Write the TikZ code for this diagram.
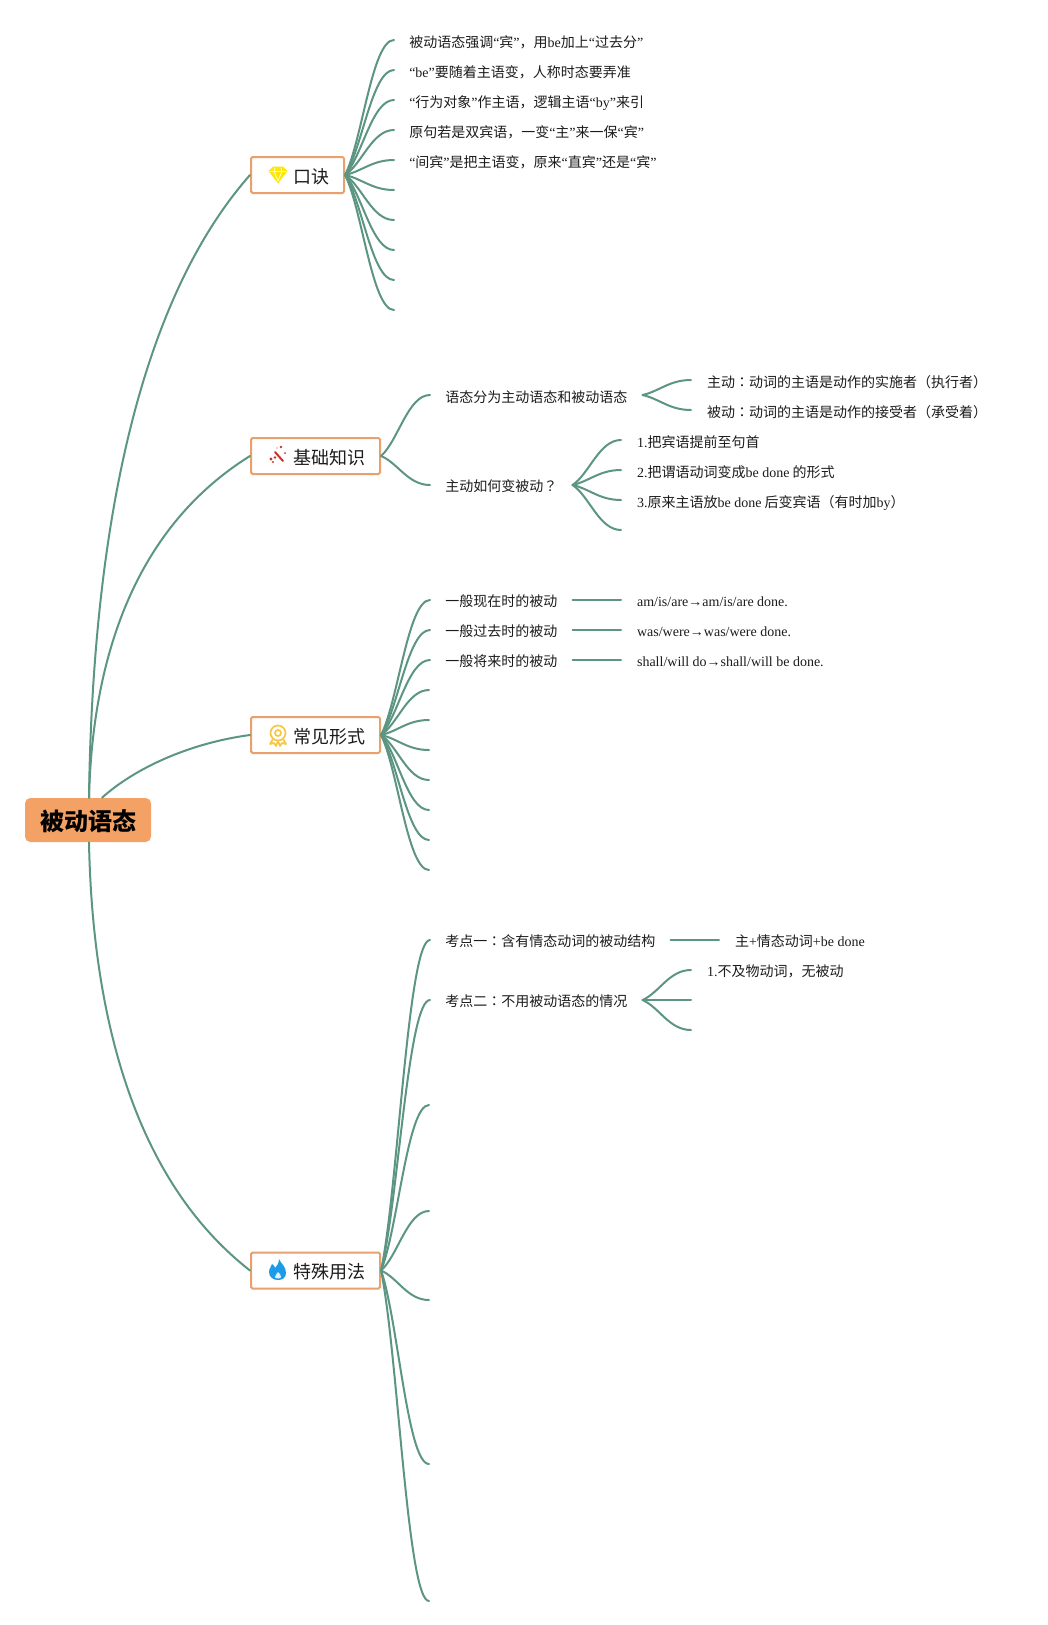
\documentclass[tikz,border=0pt]{standalone}
\usepackage{fontspec}
\usetikzlibrary{calc}
\setmainfont{Noto Sans CJK SC}
\newfontfamily\latf{Liberation Serif}
\newfontfamily\tcf{Noto Sans CJK TC}
\newcommand\la[1]{{\latf #1}}
\newcommand\cln{{\tcf ：}}
\newcommand\lsh{\hspace{.6pt}}
\definecolor{linkc}{RGB}{92,150,130}
\definecolor{boxc}{RGB}{232,160,108}
\definecolor{rootc}{RGB}{243,161,100}
\definecolor{inkc}{RGB}{28,28,28}
\definecolor{medalc}{RGB}{246,200,70}
\definecolor{flamec}{RGB}{30,155,232}
\definecolor{wandc}{RGB}{205,50,40}
\tikzset{
  x=0.75pt,y=-0.75pt,
  link/.style={draw=linkc,line width=1.5pt,line cap=round},
  leaf/.style={anchor=west,inner xsep=11.25pt,inner ysep=0pt,text=inkc,
    font=\fontsize{10.5pt}{12pt}\selectfont,text height=10.5pt,text depth=0.5pt},
  lowleaf/.style={leaf,text height=12pt},
  topic/.style={anchor=west,draw=boxc,line width=1.5pt,rounded corners=1.2pt,fill=white,
    minimum height=27pt,inner xsep=11.25pt,inner ysep=0pt,text=inkc,
    font=\fontsize{13.5pt}{15pt}\selectfont,text height=13pt,text depth=.6pt},
  rootn/.style={anchor=center,fill=rootc,rounded corners=4pt,minimum width=94.5pt,minimum height=33pt,
    inner sep=0pt,text=black,font=\fontsize{18pt}{20pt}\selectfont\bfseries,text height=15.7pt,text depth=.5pt},
}
\newcommand\qb[2]{\draw[link] let \p1=(#1),\p2=(#2) in (#1) .. controls
  ({\x1+.35*(\x2-\x1)},{\y1+.25*(\y2-\y1)}) and ({\x1+.55*(\x2-\x1)},\y2) .. (#2);}
\newcommand\rb[2]{\draw[link] let \p1=(#1),\p2=(#2) in (#1) .. controls
  ({\x1+.02*(\x2-\x1)},{\y1+.38*(\y2-\y1)}) and ({\x1+.25*(\x2-\x1)},{\y1+.78*(\y2-\y1)}) .. (#2);}
\begin{document}
\begin{tikzpicture}
\useasboundingbox (0,0) rectangle (1047,1625);
\fill[white] (0,0) rectangle (1047,1625);

% root and topics
\node[rootn] (root) at (88,820) {\hspace{1.5pt}被动语态};
\node[topic] (t1) at (250,175) {\hspace{20.3pt}口诀};
\node[topic] (t2) at (250,456) {\hspace{20.3pt}基础知识};
\node[topic] (t3) at (250,735) {\hspace{20.3pt}常见形式};
\node[topic] (t4) at (250,1270.5) {\hspace{20.3pt}特殊用法};
\coordinate (rn) at ($(root.north)+(1,0)$);
\coordinate (rn2) at ($(root.north)+(14,0)$);
\coordinate (rs) at ($(root.south)+(1,0)$);
\rb{rn}{t1.west}
\rb{rn}{t2.west}
\rb{rs}{t4.west}
\draw[link] (rn2) .. controls (135,768) and (190,743) .. (t3.west);

% topic 1
\node[lowleaf] (a1) at (394,40) {被动语态强调\la{“}宾\la{”}，用\la{be}加上\la{“}过去分\la{”}};
\node[lowleaf] (a2) at (394,70) {\la{“be”}要随着主语变，人称时态要弄准};
\node[lowleaf] (a3) at (394,100) {\la{“}行为对象\la{”}作主语，逻辑主语\la{“by”}来引};
\node[lowleaf] (a4) at (394,130) {原句若是双宾语，一变\la{“}主\la{”}来一保\la{“}宾\la{”}};
\node[lowleaf] (a5) at (394,160) {\la{“}间宾\la{”}是把主语变，原来\la{“}直宾\la{”}还是\la{“}宾\la{”}};
\coordinate (a6) at (394,190);
\coordinate (a7) at (394,220);
\coordinate (a8) at (394,250);
\coordinate (a9) at (394,280);
\coordinate (a10) at (394,310);
\foreach \tgt in {a1.west,a2.west,a3.west,a4.west,a5.west,a6,a7,a8,a9,a10}{\qb{t1.east}{\tgt}}

% topic 2
\node[lowleaf] (b1) at (430,395) {语态分为主动语态和被动语态};
\node[leaf] (b2) at (430,485) {主动如何变被动{\tcf ？}};
\qb{t2.east}{b1.west}
\qb{t2.east}{b2.west}
\node[lowleaf] (b11) at (691,380) {\lsh 主动\cln 动词的主语是动作的实施者（执行者）};
\node[lowleaf] (b12) at (691,410) {\lsh 被动\cln 动词的主语是动作的接受者（承受着）};
\qb{b1.east}{b11.west}
\qb{b1.east}{b12.west}
\node[lowleaf] (b21) at (621,440) {\lsh\la{1.}把宾语提前至句首};
\node[lowleaf] (b22) at (621,470) {\lsh\la{2.}把谓语动词变成\la{be done} 的形式};
\node[lowleaf] (b23) at (621,500) {\lsh\la{3.}原来主语放\la{be done} 后变宾语（有时加\la{by}）};
\coordinate (b24) at (621,530);
\foreach \tgt in {b21.west,b22.west,b23.west,b24}{\qb{b2.east}{\tgt}}

% topic 3
\node[leaf] (c1) at (430,600) {一般现在时的被动};
\node[leaf] (c2) at (430,630) {一般过去时的被动};
\node[leaf] (c3) at (430,660) {一般将来时的被动};
\coordinate (c4) at (429,690);
\coordinate (c5) at (429,720);
\coordinate (c6) at (429,750);
\coordinate (c7) at (429,780);
\coordinate (c8) at (429,810);
\coordinate (c9) at (429,840);
\coordinate (c10) at (429,870);
\foreach \tgt in {c1.west,c2.west,c3.west,c4,c5,c6,c7,c8,c9,c10}{\qb{t3.east}{\tgt}}
\node[leaf] (c11) at (621,600) {\lsh\la{am/is/are→am/is/are done.}};
\node[leaf] (c21) at (621,630) {\lsh\la{was/were→was/were done.}};
\node[leaf] (c31) at (621,660) {\lsh\la{shall/will do→shall/will be done.}};
\draw[link] (c1.east) -- (c11.west);
\draw[link] (c2.east) -- (c21.west);
\draw[link] (c3.east) -- (c31.west);

% topic 4
\node[leaf] (d1) at (430,940) {考点一\cln 含有情态动词的被动结构};
\node[leaf] (d2) at (430,1000) {考点二\cln 不用被动语态的情况};
\coordinate (d3) at (429,1105);
\coordinate (d4) at (429,1211);
\coordinate (d5) at (429,1300);
\coordinate (d6) at (429,1464);
\coordinate (d7) at (429,1601);
\foreach \tgt in {d1.west,d2.west,d3,d4,d5,d6,d7}{\qb{t4.east}{\tgt}}
\node[leaf] (d11) at (719,940) {\lsh 主\la{+}情态动词\la{+be done}};
\draw[link] (d1.east) -- (d11.west);
\node[leaf] (d21) at (691,970) {\lsh\la{1.}不及物动词，无被动};
\coordinate (d22) at (691,1000);
\coordinate (d23) at (691,1030);
\foreach \tgt in {d21.west,d22,d23}{\qb{d2.east}{\tgt}}

% icons
\begin{scope}[shift={(278,175)}]
  \fill[yellow!90!orange,draw=yellow!90!orange,line width=.5pt,line join=round]
    (-9,-4) -- (-5,-8) -- (5,-8) -- (9,-4) -- (0,8) -- cycle;
  \draw[white,line width=.5pt] (-8,-3.5) -- (8,-3.5) (-3,-7) -- (-4,-3.5) -- (0,6) -- (4,-3.5) -- (3,-7);
\end{scope}
\begin{scope}[shift={(278,455)}]
  \draw[wandc,line width=1.5pt,line cap=round] (-3,-3) -- (5,6);
  \fill[wandc] (-7,4) circle (1.7) (-5,7) circle (1.2) (-3,2.5) circle (1.4)
    (3,-8) circle (1.4) (7,-2) circle (1) (-1,-7) circle (.7);
\end{scope}
\begin{scope}[shift={(278,733)}]
  \draw[medalc,line width=1.3pt] (0,0) circle (7.5) (0,0) circle (3);
  \draw[medalc,line width=1.3pt,line join=round]
    (-5,6) -- (-8,11) -- (-4,10) -- (-2,13) -- (0,8)
    (5,6) -- (8,11) -- (4,10) -- (2,13) -- (0,8);
\end{scope}
\begin{scope}[shift={(278,1270)}]
  \fill[flamec] (1,-11) .. controls (3,-6) and (8,-4) .. (8,3)
    .. controls (8,8) and (4,10) .. (0,10) .. controls (-5,10) and (-9,7) .. (-9,2)
    .. controls (-9,-2) and (-6,-4) .. (-6,-6) .. controls (-4,-5) and (-3,-3) .. (-3,-2)
    .. controls (-1,-4) and (1,-7) .. (1,-11) -- cycle;
  \fill[white!85!flamec] (0,2) .. controls (2,4) and (3,5) .. (3,7) .. controls (3,9) and (-3,9) .. (-3,7)
    .. controls (-3,5) and (-1,4) .. (0,2) -- cycle;
\end{scope}
\end{tikzpicture}
\end{document}
